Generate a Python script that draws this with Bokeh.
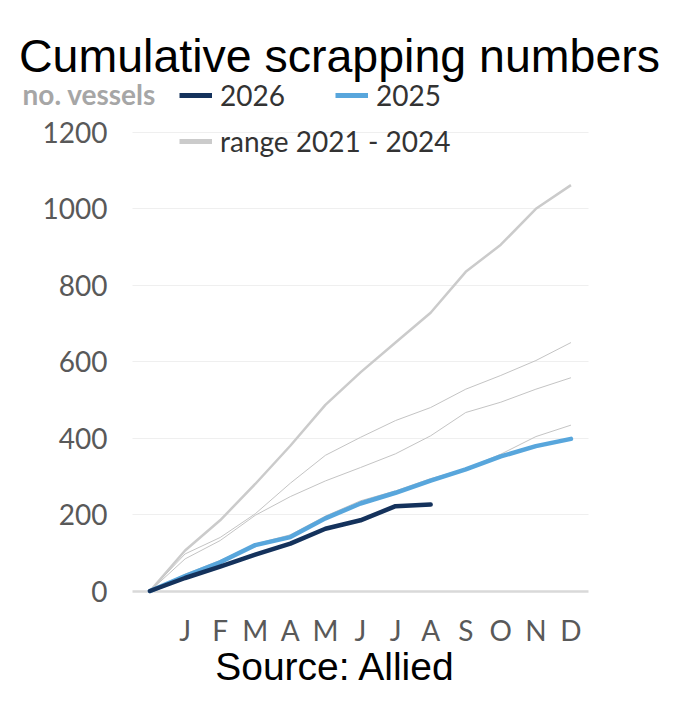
from bokeh.plotting import figure
from bokeh.models import (Range1d, FixedTicker, Label, Legend, LegendItem,
                          LinearAxis, Grid)
from bokeh.embed import file_html
from bokeh.resources import INLINE

# ---- data ----
x_pos = [0, 1, 2, 3, 4, 5, 6, 7, 8, 9, 10, 11, 12]
month_labels = ["J", "F", "M", "A", "M", "J", "J", "A", "S", "O", "N", "D"]
y_ticks = [0, 200, 400, 600, 800, 1000, 1200]

range_a = [0, 106, 185, 280, 380, 487, 572, 650, 728, 835, 906, 1000, 1062]
range_b = [0, 97, 140, 202, 282, 355, 402, 446, 480, 528, 564, 603, 650]
range_c = [0, 84, 132, 198, 247, 288, 323, 359, 406, 467, 494, 528, 558]
range_d = [0, 44, 80, 123, 147, 196, 236, 262, 294, 320, 358, 404, 434]
s2025 = [0, 39, 75, 120, 141, 190, 229, 257, 289, 318, 352, 379, 398]
s2026 = [0, 34, 64, 95, 124, 163, 185, 222, 226]

NAVY = "#14325c"
BLUE = "#58a6dc"
GREY = "#cbcbcb"
GREY_THIN = "#c4c4c4"
NAN = float("nan")

W, H = 692, 703
# the frame fills the whole canvas; ranges chosen so the plot area sits where the chart's is
PX_PER_X = 35.08
X0_PX = 149.5
PX_PER_Y = 0.3822
Y0_PX = 590.5
x_start = -X0_PX / PX_PER_X
x_end = (W - X0_PX) / PX_PER_X
y_end = Y0_PX / PX_PER_Y
y_start = (Y0_PX - H) / PX_PER_Y

p = figure(width=W, height=H, output_backend="svg", toolbar_location=None,
           x_range=Range1d(x_start, x_end), y_range=Range1d(y_start, y_end),
           x_axis_type=None, y_axis_type=None,
           min_border=0, min_border_left=0, min_border_right=0,
           min_border_top=0, min_border_bottom=0)
p.outline_line_color = None
p.background_fill_color = "white"
p.border_fill_color = "white"
p.xgrid.visible = False
p.ygrid.visible = False

AREA_X = (-0.5, 12.5)
AREA_BOTTOM = -24.9

yaxis = LinearAxis(fixed_location=AREA_X[0], ticker=FixedTicker(ticks=y_ticks))
yaxis.axis_line_color = None
yaxis.major_tick_line_color = None
yaxis.minor_tick_line_color = None
yaxis.major_label_standoff = 19
yaxis.major_label_text_font = "Lato"
yaxis.major_label_text_font_size = "28px"
yaxis.major_label_text_color = "#595959"
p.add_layout(yaxis, "left")

xaxis = LinearAxis(fixed_location=AREA_BOTTOM, ticker=FixedTicker(ticks=x_pos[1:]))
xaxis.major_label_overrides = {i + 1: m for i, m in enumerate(month_labels)}
xaxis.axis_line_color = None
xaxis.major_tick_line_color = None
xaxis.minor_tick_line_color = None
xaxis.major_label_standoff = 6
xaxis.major_label_text_font = "Lato"
xaxis.major_label_text_font_size = "28px"
xaxis.major_label_text_color = "#595959"
p.add_layout(xaxis, "below")

grid = Grid(dimension=1, ticker=FixedTicker(ticks=y_ticks[1:]),
            grid_line_color="#efefef", grid_line_width=1)
zero = Grid(dimension=1, ticker=FixedTicker(ticks=y_ticks[:1]),
            grid_line_color="#d9d9d9", grid_line_width=2.5)
if "cross_bounds" in Grid.properties():
    grid.cross_bounds = AREA_X
    zero.cross_bounds = AREA_X
    p.add_layout(grid)
    p.add_layout(zero)
else:
    p.segment(x0=AREA_X[0], x1=AREA_X[1], y0=y_ticks[1:], y1=y_ticks[1:],
              line_color="#efefef", line_width=1)
    p.segment(x0=AREA_X[0], x1=AREA_X[1], y0=y_ticks[:1], y1=y_ticks[:1],
              line_color="#d9d9d9", line_width=2.5)

# range lines
p.line(x_pos, range_a, line_color=GREY, line_width=2.5, line_join="round")
p.line(x_pos, range_b, line_color=GREY_THIN, line_width=1, line_join="round")
p.line(x_pos, range_c, line_color=GREY_THIN, line_width=1, line_join="round")
p.line(x_pos, range_d, line_color=GREY_THIN, line_width=1, line_join="round")
p.line(x_pos, s2025, line_color=BLUE, line_width=4.5, line_join="round", line_cap="round")
p.line(x_pos[:len(s2026)], s2026, line_color=NAVY, line_width=4.5,
       line_join="round", line_cap="round")

# legend keys: renderers that draw nothing in the plot, only give the key styles
k26 = p.line([NAN], [NAN], line_color=NAVY, line_width=5)
k25 = p.line([NAN], [NAN], line_color=BLUE, line_width=5)
kra = p.line([NAN], [NAN], line_color=GREY, line_width=5)


def style_legend(lg):
    lg.label_text_font = "Lato"
    lg.label_text_font_size = "28px"
    lg.label_text_color = "#333333"
    lg.glyph_width = 33
    lg.glyph_height = 20
    lg.label_standoff = 8
    lg.padding = 0
    lg.margin = 0
    lg.border_line_color = None
    lg.background_fill_alpha = 0
    lg.label_height = 20


lg1 = Legend(items=[LegendItem(label="2026", renderers=[k26]),
                    LegendItem(label="2025", renderers=[k25])],
             orientation="horizontal", location=(179, H - 112), spacing=50)
style_legend(lg1)
lg2 = Legend(items=[LegendItem(label="range 2021 - 2024", renderers=[kra])],
             orientation="horizontal", location=(179, H - 158))
style_legend(lg2)
p.add_layout(lg1)
p.add_layout(lg2)

# texts
p.add_layout(Label(x=339, y=H - 55, x_units="screen", y_units="screen",
                   text="Cumulative scrapping numbers", text_align="center",
                   text_baseline="alphabetic", text_font="Liberation Sans",
                   text_font_size="46.5px", text_color="black"))
p.add_layout(Label(x=22, y=H - 93, x_units="screen", y_units="screen",
                   text="no. vessels", text_align="left",
                   text_baseline="alphabetic", text_font="Lato",
                   text_font_style="bold",
                   text_font_size="28px", text_color="#a6a6a6"))
p.add_layout(Label(x=335, y=H - 666, x_units="screen", y_units="screen",
                   text="Source: Allied", text_align="center",
                   text_baseline="alphabetic", text_font="Liberation Sans",
                   text_font_size="39px", text_color="black"))

open("out.html", "w").write(file_html(p, INLINE))
